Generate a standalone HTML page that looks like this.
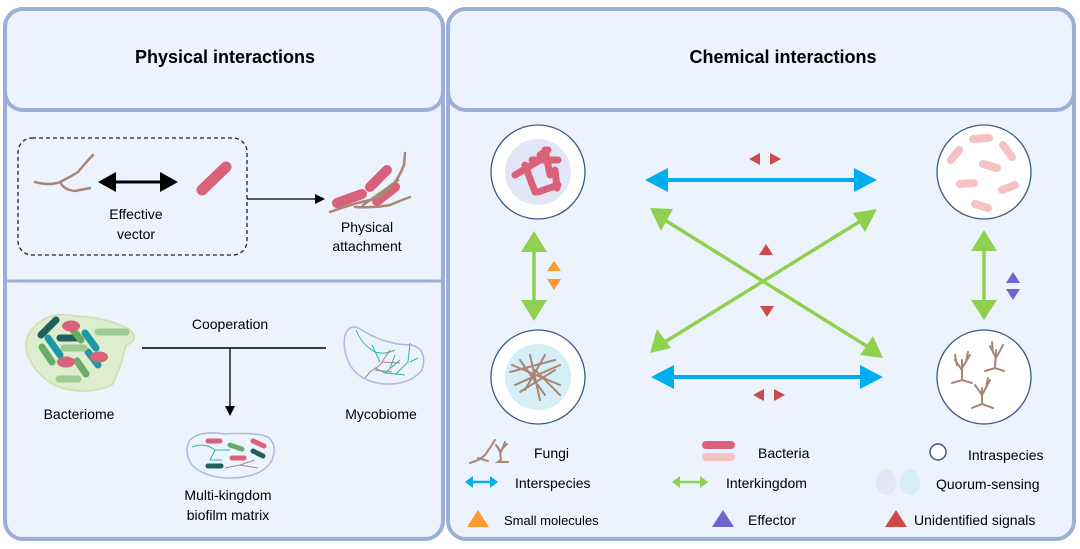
<!DOCTYPE html>
<html><head><meta charset="utf-8"><style>
body{margin:0;background:#fff;}
svg{display:block;font-family:"Liberation Sans",Arial,sans-serif;}
</style></head><body>
<svg width="1080" height="549" viewBox="0 0 1080 549" xmlns="http://www.w3.org/2000/svg">
<defs>
<marker id="bk" markerWidth="10" markerHeight="10" refX="9" refY="5" orient="auto" markerUnits="userSpaceOnUse"><path d="M0,0 L10,5 L0,10z" fill="#000"/></marker>
</defs>
<!-- left panel -->
<rect x="5" y="9" width="438" height="530" rx="18" fill="#edf3fc" stroke="#9cb0d7" stroke-width="4"/>
<rect x="5" y="9" width="438" height="101" rx="18" fill="#edf3fc" stroke="#9cb0d7" stroke-width="4"/>
<line x1="5" y1="281" x2="443" y2="281" stroke="#9cb0d7" stroke-width="3"/>
<text x="225" y="63" text-anchor="middle" font-size="18" font-weight="bold">Physical interactions</text>
<!-- right panel -->
<rect x="448" y="9" width="626" height="530" rx="18" fill="#edf3fc" stroke="#9cb0d7" stroke-width="4"/>
<rect x="448" y="9" width="626" height="101" rx="18" fill="#edf3fc" stroke="#9cb0d7" stroke-width="4"/>
<text x="783" y="63" text-anchor="middle" font-size="18" font-weight="bold">Chemical interactions</text>

<!-- dashed box -->
<rect x="18" y="138" width="229" height="117" rx="14" fill="none" stroke="#222" stroke-width="1.3" stroke-dasharray="4,3"/>
<path d="M35,182 Q50,186 60,182 Q72,176 78,172 Q88,160 93,155 M60,182 Q64,190 75,191 L90,188" fill="none" stroke="#a98578" stroke-width="2.5" stroke-linecap="round"/>
<line x1="112" y1="182" x2="164" y2="182" stroke="#000" stroke-width="3"/>
<path d="M98,182 L116,172 L116,192z M178,182 L160,172 L160,192z" fill="#000"/>
<text x="136" y="219" text-anchor="middle" font-size="14">Effective</text>
<text x="136" y="239" text-anchor="middle" font-size="14">vector</text>
<line x1="202" y1="190" x2="226" y2="167" stroke="#d9627a" stroke-width="11" stroke-linecap="round"/>
<line x1="247" y1="199" x2="324" y2="199" stroke="#000" stroke-width="1.3" marker-end="url(#bk)"/>
<!-- physical attachment -->
<line x1="337" y1="203" x2="362" y2="194" stroke="#d9627a" stroke-width="10" stroke-linecap="round"/>
<line x1="370" y1="187" x2="387" y2="170" stroke="#d9627a" stroke-width="10" stroke-linecap="round"/>
<line x1="377" y1="201" x2="395" y2="187" stroke="#d9627a" stroke-width="10" stroke-linecap="round"/>
<path d="M330,212 Q355,203 370,200 Q392,195 404,165 L405,153 M355,207 Q375,208 390,205 Q402,200 410,197 M363,205 Q385,190 398,180" fill="none" stroke="#a98578" stroke-width="2.5" stroke-linecap="round"/>
<text x="367" y="232" text-anchor="middle" font-size="14">Physical</text>
<text x="367" y="251" text-anchor="middle" font-size="14">attachment</text>

<!-- bacteriome -->
<path d="M30,332 Q45,310 75,316 Q110,318 130,330 Q140,340 126,345 Q120,370 112,385 Q90,395 62,388 Q40,380 30,360 Q22,345 30,332z" fill="#deedcd" stroke="#cfe3b8" stroke-width="2"/>
<g stroke-linecap="round" stroke-width="7" fill="none">
<line x1="41" y1="335" x2="56" y2="320" stroke="#1f5f5e"/>
<line x1="60" y1="338" x2="78" y2="338" stroke="#1f5f5e"/>
<line x1="48" y1="338" x2="60" y2="355" stroke="#1d98a8"/>
<line x1="85" y1="333" x2="96" y2="348" stroke="#1d98a8"/>
<line x1="88" y1="352" x2="98" y2="365" stroke="#1d98a8"/>
<line x1="69" y1="325" x2="81" y2="340" stroke="#69ab6a"/>
<line x1="42" y1="347" x2="52" y2="362" stroke="#69ab6a"/>
<line x1="77" y1="361" x2="86" y2="374" stroke="#69ab6a"/>
<line x1="98" y1="332" x2="126" y2="332" stroke="#9ccb92"/>
<line x1="64" y1="348" x2="84" y2="348" stroke="#9ccb92"/>
<line x1="59" y1="379" x2="78" y2="379" stroke="#9ccb92"/>
</g>
<ellipse cx="71" cy="326" rx="9" ry="5.5" fill="#d9627a"/>
<ellipse cx="99" cy="357" rx="9" ry="5.5" fill="#d9627a"/>
<ellipse cx="66" cy="362" rx="9" ry="5.5" fill="#d9627a"/>
<text x="79" y="419" text-anchor="middle" font-size="14">Bacteriome</text>
<text x="230" y="329" text-anchor="middle" font-size="14">Cooperation</text>
<line x1="142" y1="348" x2="326" y2="348" stroke="#000" stroke-width="1.5"/>
<line x1="230" y1="348" x2="230" y2="415" stroke="#000" stroke-width="1.3" marker-end="url(#bk)"/>
<!-- mycobiome -->
<path d="M345,335 Q350,322 362,330 Q385,345 412,345 Q428,350 422,370 Q410,385 385,384 Q360,382 350,365 Q342,350 345,335z" fill="#edf3fc" stroke="#a8b8e0" stroke-width="1.5"/>
<path d="M356,330 Q362,345 375,352 Q385,355 395,350 M372,345 L380,362 M400,360 L385,373 L375,368 M395,355 L390,368 M385,373 L405,375 M410,343 L408,362 L395,375 M410,362 L418,358" fill="none" stroke="#2fb5a8" stroke-width="1"/>
<path d="M390,350 L380,365 L370,372 L365,378 M382,362 L400,363 M375,370 L392,372" fill="none" stroke="#a98578" stroke-width="1"/>
<text x="381" y="419" text-anchor="middle" font-size="14">Mycobiome</text>
<!-- biofilm -->
<path d="M190,440 Q200,430 225,434 Q255,432 268,437 Q278,445 272,460 Q262,478 230,478 Q205,478 192,465 Q183,452 190,440z" fill="#edf3fc" stroke="#a8b8e0" stroke-width="1.5"/>
<g stroke-linecap="round" stroke-width="5">
<line x1="208" y1="441" x2="220" y2="441" stroke="#d9627a"/>
<line x1="230" y1="445" x2="242" y2="449" stroke="#69ab6a"/>
<line x1="253" y1="441" x2="264" y2="446" stroke="#d9627a"/>
<line x1="253" y1="451" x2="263" y2="456" stroke="#1f5f5e"/>
<line x1="232" y1="458" x2="244" y2="458" stroke="#d9627a"/>
<line x1="208" y1="466" x2="221" y2="466" stroke="#1f5f5e"/>
</g>
<path d="M192,447 Q205,442 215,450 L230,450 M215,450 L210,460 L222,460" fill="none" stroke="#2fb5a8" stroke-width="1"/>
<path d="M225,468 L240,465 L255,460 M240,465 L258,468" fill="none" stroke="#a98578" stroke-width="1"/>
<text x="228" y="500" text-anchor="middle" font-size="14">Multi-kingdom</text>
<text x="228" y="520" text-anchor="middle" font-size="14">biofilm matrix</text>

<!-- circles -->
<circle cx="538" cy="172" r="47" fill="#fff" stroke="#3b5a85" stroke-width="1.3"/>
<circle cx="538" cy="172" r="33" fill="#e3e6f7"/>
<g stroke="#d9627a" stroke-width="7" stroke-linecap="round">
<line x1="515" y1="175" x2="540" y2="160"/><line x1="525" y1="165" x2="535" y2="192"/>
<line x1="532" y1="160" x2="558" y2="160"/><line x1="545" y1="150" x2="550" y2="175"/>
<line x1="538" y1="192" x2="558" y2="185"/><line x1="555" y1="170" x2="557" y2="188"/>
<line x1="540" y1="155" x2="548" y2="150"/>
</g>
<circle cx="538" cy="377" r="47" fill="#fff" stroke="#3b5a85" stroke-width="1.3"/>
<circle cx="538" cy="377" r="33" fill="#d6eef5"/>
<path d="M510,372 L555,360 M515,385 L560,365 M520,360 L545,395 M530,355 L540,400 M545,355 L525,390 M555,370 L520,392 M512,365 L560,385 M535,370 L560,395" stroke="#a98578" stroke-width="2" fill="none" stroke-linecap="round"/>
<circle cx="984" cy="172" r="47" fill="#fff" stroke="#3b5a85" stroke-width="1.3"/>
<g stroke="#f5c2c2" stroke-width="8" stroke-linecap="round">
<line x1="973" y1="139" x2="989" y2="138"/><line x1="1003" y1="145" x2="1012" y2="157"/>
<line x1="951" y1="160" x2="959" y2="150"/><line x1="983" y1="164" x2="997" y2="168"/>
<line x1="960" y1="184" x2="974" y2="183"/><line x1="1002" y1="190" x2="1015" y2="185"/>
<line x1="975" y1="204" x2="988" y2="208"/>
</g>
<circle cx="984" cy="377" r="47" fill="#fff" stroke="#3b5a85" stroke-width="1.3"/>
<g stroke="#a98578" stroke-width="2" fill="none" stroke-linecap="round">
<path d="M952,383 L962,380 L972,383 M962,380 L962,360 M962,370 L955,360 M962,368 L970,355 M966,362 L968,352 M957,365 L955,355"/>
<path d="M985,371 L995,368 L1004,371 M995,368 L996,350 M996,358 L990,346 M996,358 L1003,345 M993,352 L992,342"/>
<path d="M972,408 L982,404 L993,408 M982,404 L982,388 M982,395 L975,385 M982,395 L990,380 M986,388 L988,378"/>
</g>

<!-- blue arrows -->
<line x1="665" y1="180" x2="858" y2="180" stroke="#00aeef" stroke-width="4"/>
<path d="M645,180 L668,168 L668,192z M877,180 L854,168 L854,192z" fill="#00aeef"/>
<line x1="670" y1="377" x2="864" y2="377" stroke="#00aeef" stroke-width="4"/>
<path d="M651,377 L674,365 L674,389z M883,377 L860,365 L860,389z" fill="#00aeef"/>
<!-- green cross -->
<line x1="660" y1="217" x2="873" y2="350" stroke="#8fd14f" stroke-width="3.5"/>
<line x1="867" y1="217" x2="660" y2="345" stroke="#8fd14f" stroke-width="3.5"/>
<path d="M650,208 L673,209 L661,231z M883,358 L873,336 L860,355z" fill="#8fd14f"/>
<path d="M877,209 L865,232 L853,213z M650,353 L657,329 L671,348z" fill="#8fd14f"/>
<!-- vertical green -->
<line x1="534" y1="245" x2="534" y2="305" stroke="#8fd14f" stroke-width="3.5"/>
<path d="M534,231 L521,252 L547,252z M534,321 L521,300 L547,300z" fill="#8fd14f"/>
<line x1="984" y1="245" x2="984" y2="305" stroke="#8fd14f" stroke-width="3.5"/>
<path d="M984,230 L971,251 L997,251z M984,320 L971,300 L997,300z" fill="#8fd14f"/>
<!-- small triangles -->
<path d="M749,159 L760,153 L760,165z M781,159 L770,153 L770,165z" fill="#cd4a4a"/>
<path d="M753,395 L764,389 L764,401z M785,395 L774,389 L774,401z" fill="#cd4a4a"/>
<path d="M766,244 L759,255 L773,255z M767,317 L760,306 L774,306z" fill="#cd4a4a"/>
<path d="M554,261 L547,271 L561,271z M554,290 L547,279 L561,279z" fill="#fb9a33"/>
<path d="M1013,272 L1006,283 L1020,283z M1013,300 L1006,289 L1020,289z" fill="#6b66cc"/>

<!-- legend -->
<path d="M470,463 Q480,460 485,455 Q490,448 495,440 M478,458 L488,461 M498,448 L500,452 L501,460 L498,462 L508,462 M501,452 L496,445 M501,452 L505,442 M503,448 L507,444" fill="none" stroke="#a98578" stroke-width="2" stroke-linecap="round"/>
<text x="534" y="458" font-size="14">Fungi</text>
<line x1="706" y1="445" x2="731" y2="445" stroke="#d9627a" stroke-width="8" stroke-linecap="round"/>
<line x1="706" y1="457" x2="731" y2="457" stroke="#f5c2c2" stroke-width="8" stroke-linecap="round"/>
<text x="758" y="458" font-size="14">Bacteria</text>
<circle cx="938" cy="452" r="8" fill="#fff" stroke="#3b5a85" stroke-width="1.5"/>
<text x="968" y="460" font-size="14">Intraspecies</text>
<line x1="470" y1="482" x2="493" y2="482" stroke="#00aeef" stroke-width="2.5"/>
<path d="M465,482 L473,476 L473,488z M498,482 L490,476 L490,488z" fill="#00aeef"/>
<text x="515" y="488" font-size="14">Interspecies</text>
<line x1="677" y1="482" x2="703" y2="482" stroke="#8fd14f" stroke-width="2.5"/>
<path d="M672,482 L680,476 L680,488z M708,482 L700,476 L700,488z" fill="#8fd14f"/>
<text x="726" y="488" font-size="14">Interkingdom</text>
<ellipse cx="886" cy="482" rx="10" ry="13" fill="#e3e6f7"/>
<ellipse cx="910" cy="482" rx="10" ry="13" fill="#d6eef5"/>
<text x="936" y="489" font-size="14">Quorum-sensing</text>
<path d="M478,510 L467,527 L489,527z" fill="#fb9a33"/>
<text x="504" y="525" font-size="13">Small molecules</text>
<path d="M723,510 L712,527 L734,527z" fill="#6b66cc"/>
<text x="748" y="525" font-size="14">Effector</text>
<path d="M896,510 L885,527 L907,527z" fill="#cd4a4a"/>
<text x="914" y="525" font-size="14">Unidentified signals</text>
</svg>
</body></html>
